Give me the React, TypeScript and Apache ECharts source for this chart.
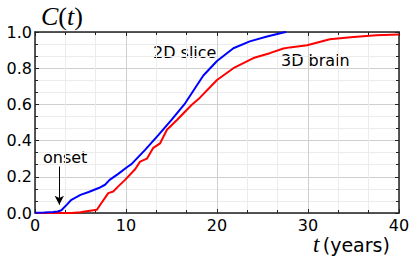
import React, { useEffect, useRef } from "react";
import * as echarts from "echarts";

const tBlue = [0, 1, 2, 2.5, 2.9, 3.5, 4.0, 5.0, 5.9, 7.0, 7.7, 8.2, 9.15, 10.1, 10.6, 12.1, 13.55, 15.0, 16.5, 17.4, 18.5, 20.0, 21.8, 23.6, 25.5, 27.3, 27.6];
const cBlue = [0.002, 0.003, 0.005, 0.008, 0.015, 0.046, 0.073, 0.1, 0.116, 0.138, 0.156, 0.183, 0.216, 0.253, 0.27, 0.349, 0.43, 0.514, 0.606, 0.675, 0.76, 0.84, 0.91, 0.948, 0.975, 0.997, 1.0];

const tRed = [0, 4, 5, 5.5, 6.8, 7.3, 8.05, 8.6, 9.15, 9.9, 11.0, 11.55, 12.3, 13.0, 13.75, 14.5, 15.6, 17.2, 18.1, 20.0, 21.8, 24.0, 25.8, 27.3, 28.0, 29.9, 32.4, 35.0, 37.5, 40];
const cRed = [0, 0, 0.004, 0.008, 0.018, 0.055, 0.11, 0.119, 0.147, 0.183, 0.242, 0.284, 0.3, 0.36, 0.385, 0.46, 0.514, 0.597, 0.636, 0.735, 0.8, 0.856, 0.883, 0.909, 0.915, 0.927, 0.96, 0.973, 0.982, 0.986];

const xTicks = [0, 10, 20, 30, 40];
const yTicks = [0, 0.2, 0.4, 0.6, 0.8, 1.0];

const seriesNames = ["3D brain", "2D slice"];
const onsetT = 2.67;
const onsetFrom = 0.257;
const onsetTo = 0.046;

const SANS = "'DejaVu Sans', Verdana, sans-serif";
const SERIF = "'Liberation Serif', 'Times New Roman', serif";

export default function App() {
  const ref = useRef<HTMLDivElement>(null);
  useEffect(() => {
    if (!ref.current) return;
    const chart = echarts.init(ref.current, undefined, { renderer: "svg" });
    const xMin = xTicks[0];
    const xMax = xTicks[xTicks.length - 1];
    const yMin = yTicks[0];
    const yMax = yTicks[yTicks.length - 1];
    const tickStyle = { show: true, inside: true, length: 4, lineStyle: { color: "#222", width: 1 } };
    const minorTick = { show: true, splitNumber: 3, length: 3, lineStyle: { color: "#222", width: 1 } };
    chart.setOption({
      animation: false,
      grid: { left: 35, top: 32, right: 16, bottom: 46, containLabel: false },
      xAxis: [
        {
          type: "value",
          min: xMin,
          max: xMax,
          interval: 10,
          axisLine: { show: true, lineStyle: { color: "#222", width: 1.5 } },
          axisTick: tickStyle,
          minorTick: { ...minorTick },
          axisLabel: { color: "#000", fontSize: 16, fontFamily: SANS, margin: 4 },
          splitLine: { show: true, lineStyle: { color: "#cfcfcf", width: 1 } },
          minorSplitLine: { show: true, lineStyle: { color: "#ececec", width: 1 } },
        },
        {
          type: "value",
          position: "top",
          min: xMin,
          max: xMax,
          interval: 10,
          axisLine: { show: true, onZero: false, lineStyle: { color: "#222", width: 1.5 } },
          axisTick: tickStyle,
          minorTick: { ...minorTick },
          axisLabel: { show: false },
          splitLine: { show: false },
        },
      ],
      yAxis: [
        {
          type: "value",
          min: yMin,
          max: yMax,
          interval: 0.2,
          axisLine: { show: true, lineStyle: { color: "#222", width: 1.5 } },
          axisTick: tickStyle,
          minorTick: { ...minorTick },
          axisLabel: {
            color: "#000",
            fontSize: 16,
            fontFamily: SANS,
            margin: 3,
            formatter: (v: number) => v.toFixed(1),
          },
          splitLine: { show: true, lineStyle: { color: "#cfcfcf", width: 1 } },
          minorSplitLine: { show: true, lineStyle: { color: "#ececec", width: 1 } },
        },
        {
          type: "value",
          position: "right",
          min: yMin,
          max: yMax,
          interval: 0.2,
          axisLine: { show: true, onZero: false, lineStyle: { color: "#222", width: 1.5 } },
          axisTick: tickStyle,
          minorTick: { ...minorTick },
          axisLabel: { show: false },
          splitLine: { show: false },
        },
      ],
      series: [
        {
          name: seriesNames[0],
          type: "line",
          showSymbol: false,
          symbol: "none",
          data: tRed.map((t, i) => [t, cRed[i]]),
          lineStyle: { color: "#ff0000", width: 2 },
          z: 3,
        },
        {
          name: seriesNames[1],
          type: "line",
          showSymbol: false,
          symbol: "none",
          data: tBlue.map((t, i) => [t, cBlue[i]]),
          lineStyle: { color: "#0000ff", width: 2 },
          z: 4,
          markLine: {
            silent: true,
            symbol: ["none", "arrow"],
            symbolSize: [7, 9],
            label: { show: false },
            lineStyle: { color: "#000", width: 1, type: "solid" },
            data: [[{ coord: [onsetT, onsetFrom] }, { coord: [onsetT, onsetTo] }]],
          },
        },
      ],
      graphic: [
        {
          type: "text",
          left: 41,
          top: 3,
          style: {
            text: "{i|C}{n|(}{i|t}{n|)}",
            rich: {
              i: { fontFamily: SERIF, fontStyle: "italic", fontSize: 26, fill: "#000" },
              n: { fontFamily: SERIF, fontSize: 26, fill: "#000" },
            },
          },
        },
        {
          type: "text",
          left: 313,
          top: 233,
          style: {
            text: "{i|t} {n|(years)}",
            rich: {
              i: { fontFamily: SERIF, fontStyle: "italic", fontSize: 23, fill: "#000" },
              n: { fontFamily: SANS, fontSize: 19, fill: "#000" },
            },
          },
        },
        {
          type: "text",
          left: 153,
          top: 44,
          style: { text: seriesNames[1], fontFamily: SANS, fontSize: 16, fill: "#000" },
        },
        {
          type: "text",
          left: 281,
          top: 52,
          style: { text: seriesNames[0], fontFamily: SANS, fontSize: 16, fill: "#000" },
        },
        {
          type: "text",
          left: 43,
          top: 149,
          style: { text: "onset", fontFamily: SANS, fontSize: 16, fill: "#000" },
        },
      ],
    });
    return () => chart.dispose();
  }, []);
  return (
    <div
      ref={ref}
      style={{ position: "absolute", left: 0, top: 0, width: 415, height: 259, background: "#fff" }}
    />
  );
}
